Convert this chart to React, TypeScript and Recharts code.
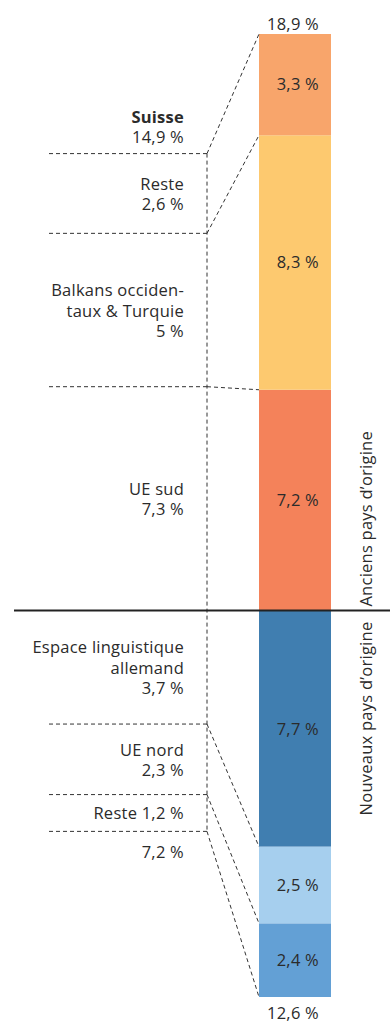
import { ComposedChart, Bar, XAxis, YAxis, ReferenceLine, ReferenceArea, LabelList } from "recharts"

// Anciens pays d'origine (au-dessus de la base), du haut vers le bas
const anciensPays = ["Reste", "Balkans occidentaux & Turquie", "UE sud"]
const anciensLignes = [["Reste"], ["Balkans occiden-", "taux & Turquie"], ["UE sud"]]
const anciensSuisse = [2.6, 5, 7.3]
const anciensMigrants = [3.3, 8.3, 7.2]
const anciensCouleurs = ["#F8A56B", "#FDC96F", "#F4825A"]

// Nouveaux pays d'origine (sous la base), du haut vers le bas
const nouveauxPays = ["Espace linguistique allemand", "UE nord", "Reste"]
const nouveauxLignes = [["Espace linguistique", "allemand"], ["UE nord"], ["Reste"]]
const nouveauxSuisse = [3.7, 2.3, 1.2]
const nouveauxMigrants = [7.7, 2.5, 2.4]
const nouveauxCouleurs = ["#407EB0", "#A6CFEE", "#63A0D5"]

// totaux affichés : [anciens, nouveaux]
const totauxSuisse = [14.9, 7.2]
const totauxMigrants = [18.9, 12.6]

const W = 390
const H = 1021
const TEXT = "#2b2b2b"
const FONT = "'Open Sans', sans-serif"
const FS = 16.5
const LH = 20.5

const AXE_DEBUT = 14
const TRAIT_DEBUT = 49
const COL_X = 207
const LABEL_X = 184
const BAR_X = 295
const BAR_W = 72
const BAR_GAUCHE = BAR_X - BAR_W / 2

const fmt = (v: number) => `${String(v).replace(".", ",")} %`
const sum = (a: number[]) => a.reduce((s, v) => s + v, 0)
const round = (v: number) => Math.round(v * 100) / 100
// bord supérieur de chaque segment positif
const hauts = (vals: number[]) => vals.map((_, i) => round(sum(vals.slice(i))))
// bord inférieur de chaque segment négatif
const bas = (vals: number[]) => vals.map((_, i) => -round(sum(vals.slice(0, i + 1))))

const hautsSuisse = hauts(anciensSuisse)
const hautsMigrants = hauts(anciensMigrants)
const basSuisse = bas(nouveauxSuisse)
const basMigrants = bas(nouveauxMigrants)

const row: Record<string, number> = { pos: BAR_X }
anciensMigrants.forEach((v, i) => (row[`a${i}`] = v))
nouveauxMigrants.forEach((v, i) => (row[`n${i}`] = -v))
const data = [row]

const domaine = [-sum(nouveauxMigrants), sum(anciensMigrants)]

const txt = { fill: TEXT, fontSize: FS, fontFamily: FONT, letterSpacing: 0.25 }

// étiquette multi-ligne alignée à droite, centrée dans la zone
const blocSuisse = (lignes: string[], valeur: number) => (p: any) => {
  const vb = p.viewBox
  const cy = vb.y + vb.height / 2
  const enLigne = Math.abs(vb.height) < 2 * LH
  const all = enLigne
    ? [...lignes.slice(0, -1), `${lignes[lignes.length - 1]} ${fmt(valeur)}`]
    : [...lignes, fmt(valeur)]
  return (
    <g>
      {all.map((l, k) => (
        <text key={k} x={LABEL_X} y={cy + (k - (all.length - 1) / 2) * LH} textAnchor="end" dominantBaseline="central" {...txt}>
          {l}
        </text>
      ))}
    </g>
  )
}

const totalSuisse = (dessus: boolean) => (p: any) => {
  const y = p.viewBox.y
  if (dessus) {
    return (
      <g>
        <text x={LABEL_X} y={y - 17 - LH} textAnchor="end" dominantBaseline="central" {...txt} fontWeight="bold">
          Suisse
        </text>
        <text x={LABEL_X} y={y - 17} textAnchor="end" dominantBaseline="central" {...txt}>
          {fmt(totauxSuisse[0])}
        </text>
      </g>
    )
  }
  return (
    <text x={LABEL_X} y={y + 20} textAnchor="end" dominantBaseline="central" {...txt}>
      {fmt(totauxSuisse[1])}
    </text>
  )
}

const totalMigrants = (dessus: boolean) => (p: any) => {
  const top = Math.min(p.y, p.y + p.height)
  const bottom = Math.max(p.y, p.y + p.height)
  return (
    <text x={p.x + p.width - 12} y={dessus ? top - 11 : bottom + 15} textAnchor="end" dominantBaseline="central" {...txt}>
      {fmt(totauxMigrants[dessus ? 0 : 1])}
    </text>
  )
}

const titres = (p: any) => {
  const y = p.viewBox.y
  const x = 372
  return (
    <g>
      <text x={x} y={y - 4} transform={`rotate(-90 ${x} ${y - 4})`} textAnchor="start" {...txt}>
        Anciens pays d’origine
      </text>
      <text x={x} y={y + 11} transform={`rotate(-90 ${x} ${y + 11})`} textAnchor="end" {...txt}>
        Nouveaux pays d’origine
      </text>
    </g>
  )
}

const tirets = { stroke: "#333", strokeWidth: 1, strokeDasharray: "4 3" }

export default function App() {
  const ordreAnciens = [2, 1, 0]
  const ordreNouveaux = [0, 1, 2]
  return (
    <div style={{ width: W, height: H }}>
      <style>{"body{margin:0}"}</style>
      <ComposedChart
        width={W}
        height={H}
        data={data}
        stackOffset="sign"
        barSize={BAR_W}
        margin={{ top: 34, right: 0, bottom: 24, left: 0 }}
      >
        <XAxis type="number" dataKey="pos" domain={[0, W]} hide />
        <YAxis type="number" domain={domaine} allowDataOverflow hide />

        {ordreAnciens.map((i) => (
          <Bar key={`a${i}`} dataKey={`a${i}`} name={anciensPays[i]} stackId="m" fill={anciensCouleurs[i]} isAnimationActive={false}>
            <LabelList dataKey={`a${i}`} position="insideRight" offset={12} formatter={(v: any) => fmt(Math.abs(Number(v)))} {...txt} />
            {i === 0 && <LabelList dataKey={`a${i}`} content={totalMigrants(true)} />}
          </Bar>
        ))}
        {ordreNouveaux.map((i) => (
          <Bar key={`n${i}`} dataKey={`n${i}`} name={nouveauxPays[i]} stackId="m" fill={nouveauxCouleurs[i]} isAnimationActive={false}>
            <LabelList dataKey={`n${i}`} position="insideRight" offset={12} formatter={(v: any) => fmt(Math.abs(Number(v)))} {...txt} />
            {i === 2 && <LabelList dataKey={`n${i}`} content={totalMigrants(false)} />}
          </Bar>
        ))}

        {/* colonne de comparaison : population suisse */}
        {anciensSuisse.map((v, i) => (
          <ReferenceArea
            key={`sa${i}`}
            x1={TRAIT_DEBUT}
            x2={COL_X}
            y1={hautsSuisse[i]}
            y2={round(hautsSuisse[i] - v)}
            fill="none"
            stroke="none"
            label={blocSuisse(anciensLignes[i], v)}
          />
        ))}
        {nouveauxSuisse.map((v, i) => (
          <ReferenceArea
            key={`sn${i}`}
            x1={TRAIT_DEBUT}
            x2={COL_X}
            y1={round(basSuisse[i] + v)}
            y2={basSuisse[i]}
            fill="none"
            stroke="none"
            label={blocSuisse(nouveauxLignes[i], v)}
          />
        ))}

        {[...hautsSuisse, ...basSuisse].map((y, i) => (
          <ReferenceLine
            key={`h${i}`}
            segment={[{ x: TRAIT_DEBUT, y }, { x: COL_X, y }]}
            {...tirets}
            label={i === 0 ? totalSuisse(true) : i === 5 ? totalSuisse(false) : undefined}
          />
        ))}
        <ReferenceLine segment={[{ x: COL_X, y: hautsSuisse[0] }, { x: COL_X, y: basSuisse[2] }]} {...tirets} />

        {/* liaisons vers la barre des migrants */}
        {hautsSuisse.map((y, i) => (
          <ReferenceLine key={`da${i}`} segment={[{ x: COL_X, y }, { x: BAR_GAUCHE, y: hautsMigrants[i] }]} {...tirets} />
        ))}
        {basSuisse.map((y, i) => (
          <ReferenceLine key={`dn${i}`} segment={[{ x: COL_X, y }, { x: BAR_GAUCHE, y: basMigrants[i] }]} {...tirets} />
        ))}

        <ReferenceLine segment={[{ x: AXE_DEBUT, y: 0 }, { x: W, y: 0 }]} stroke="#222" strokeWidth={2} label={titres} />
      </ComposedChart>
    </div>
  )
}
